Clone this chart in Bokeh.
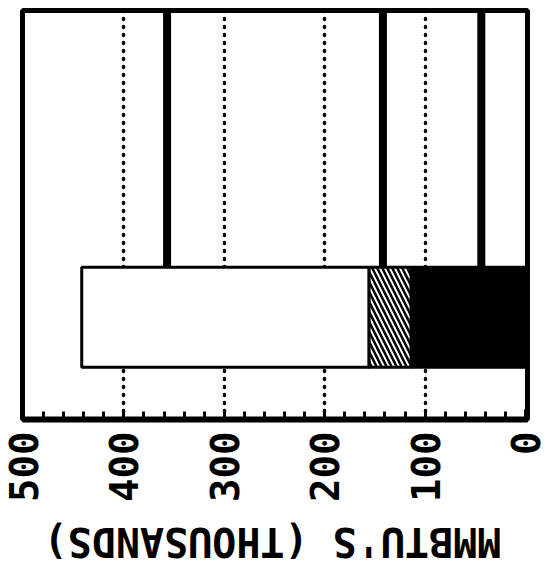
import math
from bokeh.plotting import figure
from bokeh.layouts import column
from bokeh.models import Range1d, SingleIntervalTicker, FixedTicker, Label
from bokeh.embed import file_html
from bokeh.resources import INLINE

# ---- data ----
segment_names = ["Solid", "Hatched", "Open"]
segment_values = [114, 42, 286]          # stacked from 0 outward (MMBTU's, thousands)
leader_values = [44, 142, 357]           # positions of the leader lines
tick_values = [0, 100, 200, 300, 400, 500]
grid_values = [100, 200, 300, 400]
axis_title = "MMBTU'S (THOUSANDS)"

FONT = "DejaVu Sans Mono"

p = figure(width=547, height=515,
           x_range=Range1d(501, -2), y_range=Range1d(0, 4),
           output_backend="svg", toolbar_location=None,
           y_axis_location=None,
           min_border_left=22, min_border_right=20,
           min_border_top=10, min_border_bottom=96)

p.outline_line_color = "black"
p.outline_line_width = 5
p.background_fill_color = "white"
p.border_fill_color = "white"

# grid
p.ygrid.visible = False
p.xgrid.ticker = FixedTicker(ticks=grid_values)
p.xgrid.grid_line_color = "black"
p.xgrid.grid_line_width = 3.5
p.xgrid.grid_line_dash = "1 7"
p.xgrid.grid_line_cap = "round"

# axis
ax = p.xaxis[0]
ax.ticker = SingleIntervalTicker(interval=100, num_minor_ticks=5)
ax.axis_line_width = 6
ax.axis_line_color = "black"
ax.major_tick_in = 10
ax.major_tick_out = 0
ax.minor_tick_in = 8
ax.minor_tick_out = 0
ax.major_tick_line_width = 3
ax.minor_tick_line_width = 3
ax.major_tick_line_color = "black"
ax.minor_tick_line_color = "black"
ax.major_label_orientation = math.pi / 2
ax.major_label_text_font = FONT
ax.major_label_text_font_style = "bold"
ax.major_label_text_font_size = "39px"
ax.major_label_text_color = "black"
ax.major_label_standoff = 12

# leader lines
p.segment(x0=leader_values, y0=1.5, x1=leader_values, y1=4.2,
          line_color="black", line_width=8)

# stacked bar
styles = {
    "Solid": dict(fill_color="black", hatch_pattern=" "),
    "Hatched": dict(fill_color="white", hatch_pattern="\\", hatch_color="black",
                    hatch_weight=2.5, hatch_scale=10),
    "Open": dict(fill_color="white", hatch_pattern=" "),
}
left = 0
for name, v in zip(segment_names, segment_values):
    p.hbar(y=1, left=left, right=left + v, height=0.98,
           line_color="black", line_width=3, **styles[name])
    left += v

# axis title strip (upside down, as in the picture)
t = figure(width=547, height=56,
           x_range=Range1d(501, -2), y_range=Range1d(0, 56),
           output_backend="svg", toolbar_location=None,
           x_axis_location=None, y_axis_location=None,
           min_border_left=22, min_border_right=20,
           min_border_top=0, min_border_bottom=0)
t.outline_line_color = None
t.grid.visible = False
t.add_layout(Label(x=(tick_values[0] + tick_values[-1]) / 2 + 2, y=30, text=axis_title,
                   angle=math.pi, text_align="center", text_baseline="middle",
                   text_font=FONT, text_font_style="bold", text_font_size="40px",
                   text_color="black"))

open("out.html", "w").write(file_html(column(p, t, spacing=0), INLINE))
